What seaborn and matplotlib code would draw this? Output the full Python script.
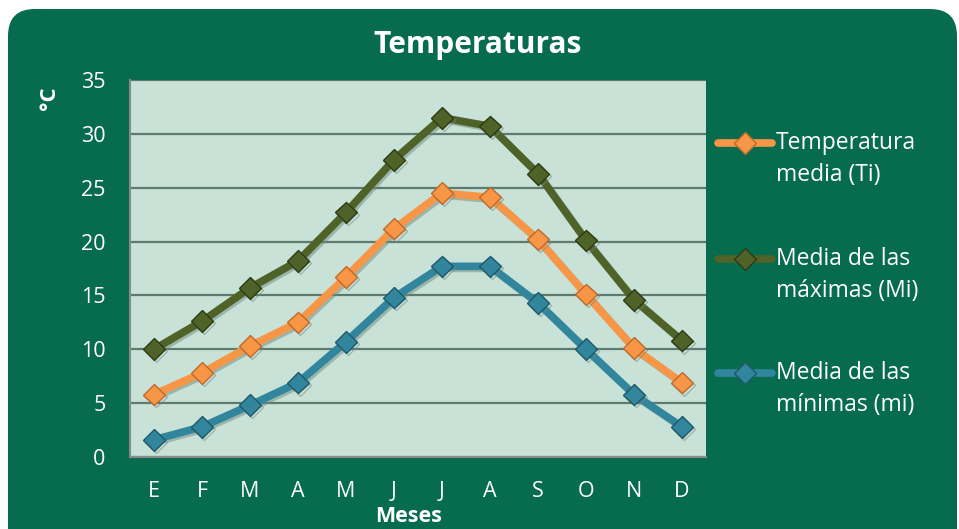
import numpy as np
import pandas as pd
import matplotlib
matplotlib.use("Agg")
import matplotlib.pyplot as plt
import matplotlib.patheffects as pe
from matplotlib.patches import FancyBboxPatch
from matplotlib.lines import Line2D
import seaborn as sns

months = ["E", "F", "M", "A", "M", "J", "J", "A", "S", "O", "N", "D"]
temp_media = [5.8, 7.8, 10.3, 12.5, 16.7, 21.2, 24.5, 24.1, 20.2, 15.1, 10.1, 6.9]
media_max = [10.0, 12.6, 15.7, 18.2, 22.7, 27.6, 31.5, 30.7, 26.3, 20.1, 14.6, 10.8]
media_min = [1.6, 2.8, 4.8, 6.9, 10.7, 14.8, 17.7, 17.7, 14.3, 10.0, 5.8, 2.8]
series_names = ["Temperatura\nmedia (Ti)", "Media de las\nmáximas (Mi)", "Media de las\nmínimas (mi)"]
y_ticks = [0, 5, 10, 15, 20, 25, 30, 35]

colors = ["#F79646", "#4F6228", "#31859C"]
edge_colors = ["#C0692A", "#2E3A15", "#1E5868"]
GREEN = "#076B4E"
PLOT_BG = "#C8E2D7"

sns.set_theme(style="white")
plt.rcParams["font.family"] = ["Open Sans", "DejaVu Sans"]

idx = np.arange(len(months))
df = pd.DataFrame({
    "pos": np.tile(idx, 3),
    "valor": temp_media + media_max + media_min,
    "serie": np.repeat(series_names, len(months)),
})

fig = plt.figure(figsize=(9.59, 5.29), dpi=100)
fig.patch.set_facecolor("white")
bg = FancyBboxPatch((8 / 959, -0.05), 949 / 959, 1.05 - 9 / 529,
                    boxstyle="round,pad=0,rounding_size=0.028",
                    transform=fig.transFigure, facecolor=GREEN, edgecolor="none",
                    mutation_aspect=959 / 529, zorder=-10)
fig.patches.append(bg)

ax = fig.add_axes([130 / 959, 1 - 457 / 529, 576 / 959, 377 / 529])
ax.set_zorder(2)
ax.set_facecolor(PLOT_BG)

shadow = [pe.SimpleLineShadow(offset=(1.5, -1.5), shadow_color="#6f8a7f", alpha=0.5), pe.Normal()]
for name, c, ec in zip(series_names, colors, edge_colors):
    sub = df[df["serie"] == name]
    sns.lineplot(data=sub, x="pos", y="valor", ax=ax, color=c, linewidth=5.5,
                 marker="D", markersize=11, markeredgecolor=ec, markeredgewidth=1.0,
                 markerfacecolor=c, sort=False, legend=False, zorder=3,
                 path_effects=shadow)

TICK_FS = 15.5
ax.set_xlim(-0.5, len(months) - 0.5)
ax.set_ylim(0, 35)
ax.set_yticks(y_ticks)
ax.set_yticklabels([str(t) for t in y_ticks])
ax.set_xticks(idx)
ax.set_xticklabels(months)
ax.set_xticks(np.arange(-0.5, len(months), 1.0), minor=True)
ax.tick_params(axis="x", which="major", length=0, pad=17, labelsize=TICK_FS, labelcolor="white")
ax.tick_params(axis="x", which="minor", length=6, width=1.2, color="#8a8a8a", direction="out")
ax.tick_params(axis="y", which="major", length=5.5, width=1.2, color="#8a8a8a", direction="out",
               pad=12, labelsize=TICK_FS, labelcolor="white")
ax.grid(axis="y", color="#5E7A6E", linewidth=1.6, zorder=1)
ax.set_axisbelow(True)
ax.set_xlabel("")
ax.set_ylabel("")
for s in ["top", "right"]:
    ax.spines[s].set_visible(False)
for s in ["left", "bottom"]:
    ax.spines[s].set_color("#8a8a8a")
    ax.spines[s].set_linewidth(1.5)

fig.text(478 / 959, 1 - 45 / 529, "Temperaturas", color="white", fontsize=21.5,
         fontweight="bold", ha="center", va="center")
fig.text(49 / 959, 1 - 98 / 529, "°C", color="white", fontsize=16,
         fontweight="bold", ha="center", va="center", rotation=90)
fig.text(409 / 959, 1 - 517 / 529, "Meses", color="white", fontsize=15.5,
         fontweight="bold", ha="center", va="center")

# legend (drawn as figure artists so the handle aligns with the first text line)
legend_y = [143, 259, 373]
for name, c, ec, ly in zip(series_names, colors, edge_colors, legend_y):
    yf = 1 - ly / 529
    fig.add_artist(Line2D([718 / 959, 772 / 959], [yf, yf], transform=fig.transFigure,
                          color=c, linewidth=5.5, solid_capstyle="round", zorder=3))
    fig.add_artist(Line2D([745 / 959], [yf], transform=fig.transFigure, color=c,
                          marker="D", markersize=11, markeredgecolor=ec,
                          markerfacecolor=c, linestyle="none", zorder=4))
    for k, line in enumerate(name.split("\n")):
        fig.text(776 / 959, 1 - (ly + 32 * k) / 529, line, color="white",
                 fontsize=16.5, ha="left", va="center")

fig.savefig("out.png", dpi=100, facecolor=fig.get_facecolor())
